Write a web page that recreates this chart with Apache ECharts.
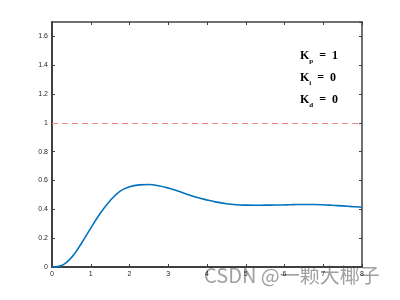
<!DOCTYPE html>
<html>
<head>
<meta charset="utf-8">
<script src="https://cdn.jsdelivr.net/npm/echarts@6/dist/echarts.min.js"></script>
<style>html,body{margin:0;padding:0;background:#fff}#c{width:400px;height:300px}</style>
</head>
<body>
<div id="c"></div>
<script>
var times = [0,0.25,0.5,0.75,1,1.25,1.5,1.75,2,2.25,2.5,2.75,3,3.25,3.5,3.75,4,4.25,4.5,4.75,5,5.25,5.5,5.75,6,6.25,6.5,6.75,7,7.25,7.5,7.75,8];
var response = [0,0.01,0.065,0.16,0.27,0.375,0.46,0.525,0.557,0.57,0.572,0.564,0.548,0.527,0.503,0.482,0.465,0.45,0.439,0.432,0.429,0.428,0.429,0.43,0.431,0.433,0.434,0.434,0.432,0.428,0.424,0.419,0.415];
var referenceLevel = 1;
var gainLabels = [['p','1'],['i','0'],['d','0']];
var watermark = 'CSDN @一颗大椰子';

var chart = echarts.init(document.getElementById('c'), null, {renderer:'canvas'});
var axisCol = '#404040';
var lbl = {fontSize:7, color:'#262626', fontFamily:'Liberation Sans, Arial, sans-serif', margin:4};
var texts = gainLabels.map(function(g, i){
  return {
    type:'text', left:300, top:50 + i*22,
    style:{
      text:'{k|K}{s|' + g[0] + '}{k|  =  ' + g[1] + '}',
      rich:{
        k:{fontSize:12, fontWeight:'bold', fontFamily:'Liberation Serif, DejaVu Serif, serif', fill:'#000', lineHeight:14, verticalAlign:'bottom'},
        s:{fontSize:7, fontWeight:'bold', fontFamily:'Liberation Serif, DejaVu Serif, serif', fill:'#000', lineHeight:14, verticalAlign:'bottom', padding:[0,0,-3,0]}
      }
    }
  };
});
texts.push({
  type:'text', left:204, top:265,
  style:{text:watermark, fontSize:20, fontFamily:'Noto Sans CJK SC, sans-serif', fill:'rgba(120,120,120,0.7)'}
});
chart.setOption({
  animation:false,
  grid:{left:52, right:38, top:22, bottom:33, containLabel:false},
  xAxis:[
    {type:'value', min:0, max:8, interval:1, position:'bottom',
     axisLine:{show:true, onZero:false, lineStyle:{color:axisCol, width:2}},
     axisTick:{show:true, inside:true, length:3, lineStyle:{color:axisCol, width:1}},
     axisLabel:Object.assign({}, lbl), splitLine:{show:false}},
    {type:'value', min:0, max:8, interval:1, position:'top',
     axisLine:{show:true, onZero:false, lineStyle:{color:axisCol, width:1.5}},
     axisTick:{show:true, inside:true, length:3, lineStyle:{color:axisCol, width:1}},
     axisLabel:{show:false}, splitLine:{show:false}}
  ],
  yAxis:[
    {type:'value', min:0, max:1.7, interval:0.2, position:'left',
     axisLine:{show:true, onZero:false, lineStyle:{color:axisCol, width:2}},
     axisTick:{show:true, inside:true, length:3, lineStyle:{color:axisCol, width:1}},
     axisLabel:Object.assign({showMaxLabel:false}, lbl), splitLine:{show:false}},
    {type:'value', min:0, max:1.7, interval:0.2, position:'right',
     axisLine:{show:true, onZero:false, lineStyle:{color:axisCol, width:1.5}},
     axisTick:{show:true, inside:true, length:3, lineStyle:{color:axisCol, width:1}},
     axisLabel:{show:false}, splitLine:{show:false}}
  ],
  series:[{
    type:'line', xAxisIndex:0, yAxisIndex:0, smooth:0.4, symbol:'none',
    data: times.map(function(t,i){return [t, response[i]];}),
    lineStyle:{color:'#0072BD', width:1.6},
    markLine:{silent:true, symbol:'none', label:{show:false},
      lineStyle:{color:'#f08a8a', width:1, type:[6,4]},
      data:[{yAxis:referenceLevel}]}
  }],
  graphic: texts
});
</script>
</body>
</html>
